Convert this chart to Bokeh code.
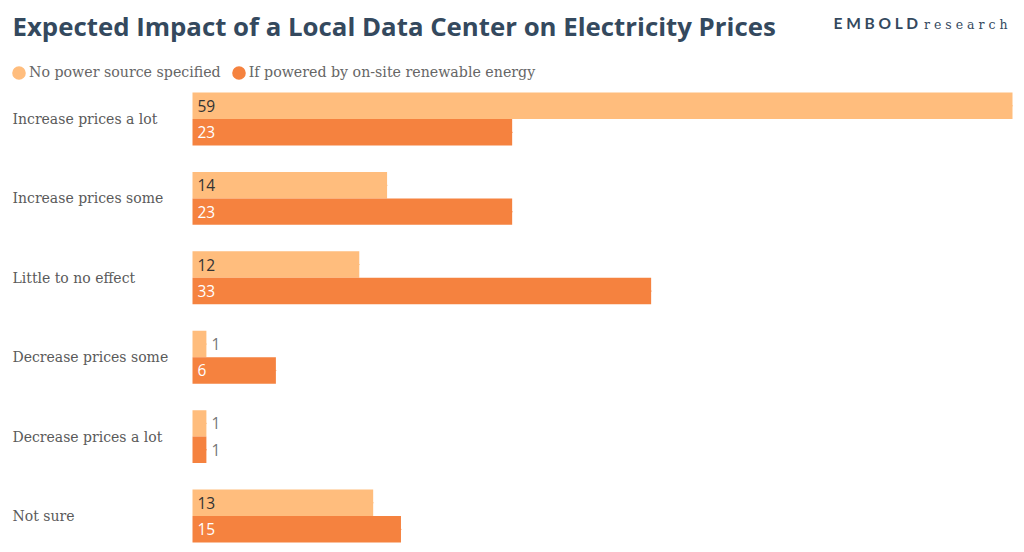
from bokeh.plotting import figure
from bokeh.models import ColumnDataSource, Range1d, Label, Legend, LegendItem
from bokeh.core.properties import value
from bokeh.embed import file_html
from bokeh.resources import INLINE

# ---- data ----
categories = ["Increase prices a lot", "Increase prices some", "Little to no effect",
              "Decrease prices some", "Decrease prices a lot", "Not sure"]
no_source = [59, 14, 12, 1, 1, 13]
renewable = [23, 23, 33, 6, 1, 15]
series_names = ["No power source specified", "If powered by on-site renewable energy"]
title_text = "Expected Impact of a Local Data Center on Electricity Prices"

# ---- layout / style ----
W, H = 1024, 552
BAR_LEFT, BAR_RIGHT = 192, 1012      # canvas px where 0 and max value sit
FIRST_CENTER, BAND = 118.5, 79.4     # canvas px of first category centre, band size
LIGHT, DARK = "#FFBD7D", "#F5823F"
TITLE_COLOR = "#34495E"
SERIF = "DejaVu Serif"
SANS = "Open Sans"

max_val = max(no_source + renewable)
scale = (BAR_RIGHT - BAR_LEFT) / max_val
x_range = Range1d(-BAR_LEFT / scale, (W - BAR_LEFT) / scale)
y_range = Range1d((H - FIRST_CENTER) / BAND, -FIRST_CENTER / BAND)

p = figure(width=W, height=H, x_range=x_range, y_range=y_range, title=None,
           output_backend="svg", toolbar_location=None,
           x_axis_location=None, y_axis_location=None, min_border=0)
p.grid.visible = False
p.outline_line_color = None
p.background_fill_color = "white"

idx = list(range(len(categories)))
off = 1 / 6
bar_h = 1 / 3

light_src = ColumnDataSource(dict(y=[i - off for i in idx], v=no_source))
dark_src = ColumnDataSource(dict(y=[i + off for i in idx], v=renewable))
p.hbar(y="y", left=0, right="v", height=bar_h, source=light_src,
       fill_color=LIGHT, line_color=None)
p.hbar(y="y", left=0, right="v", height=bar_h, source=dark_src,
       fill_color=DARK, line_color=None)

# value labels
def label_source(vals, ys, inside_color):
    xs, cols = [], []
    for v in vals:
        inside = v * scale >= 30
        xs.append(0 if inside else v)
        cols.append(inside_color if inside else "#757575")
    return ColumnDataSource(dict(x=xs, y=ys, text=[str(v) for v in vals], c=cols))

for vals, src_y, col in ((no_source, light_src.data["y"], "#333333"),
                         (renewable, dark_src.data["y"], "#FFFFFF")):
    p.text(x="x", y="y", text="text", source=label_source(vals, src_y, col),
           x_offset=5, text_color="c", text_font=value(SANS),
           text_font_size="15.5px", text_align="left", text_baseline="middle")

# category labels (left aligned)
cat_src = ColumnDataSource(dict(x=[x_range.start] * len(categories), y=idx, text=categories))
p.text(x="x", y="y", text="text", source=cat_src, x_offset=12,
       text_font=value(SERIF), text_font_size="14px", text_color="#5a5a5a",
       text_align="left", text_baseline="middle")

# legend swatches: 1px ellipses at the bar ends (same colour, invisible),
# used only so the legend draws round markers
r1 = p.ellipse(x="v", y="y", source=light_src, width=1, height=1,
               width_units="screen", height_units="screen",
               fill_color=LIGHT, line_color=None)
r2 = p.ellipse(x="v", y="y", source=dark_src, width=1, height=1,
               width_units="screen", height_units="screen",
               fill_color=DARK, line_color=None)
legend = Legend(items=[LegendItem(label=series_names[0], renderers=[r1], index=0),
                       LegendItem(label=series_names[1], renderers=[r2], index=0)],
                location=(10, H - 80.5), orientation="horizontal",
                glyph_width=17, glyph_height=17, label_standoff=2, spacing=9,
                padding=0, margin=0, border_line_color=None, background_fill_alpha=0,
                label_text_font=SERIF, label_text_font_size="14.2px",
                label_text_color="#666666")
p.add_layout(legend)

# title
p.add_layout(Label(x=12, y=H - 25.2, x_units="screen", y_units="screen", text=title_text,
                   text_font=SANS, text_font_style="bold", text_font_size="25.8px",
                   text_color=TITLE_COLOR, text_baseline="middle"))
# logo
p.add_layout(Label(x=833, y=H - 22.3, x_units="screen", y_units="screen", text="E M B O L D",
                   text_font="Lato", text_font_style="bold", text_font_size="15.5px",
                   text_color=TITLE_COLOR, text_baseline="middle"))
p.add_layout(Label(x=1007, y=H - 24, x_units="screen", y_units="screen", text="r e s e a r c h",
                   text_font=SERIF, text_font_size="12.5px", text_align="right",
                   text_color=TITLE_COLOR, text_baseline="middle"))

open("out.html", "w").write(file_html(p, INLINE))
